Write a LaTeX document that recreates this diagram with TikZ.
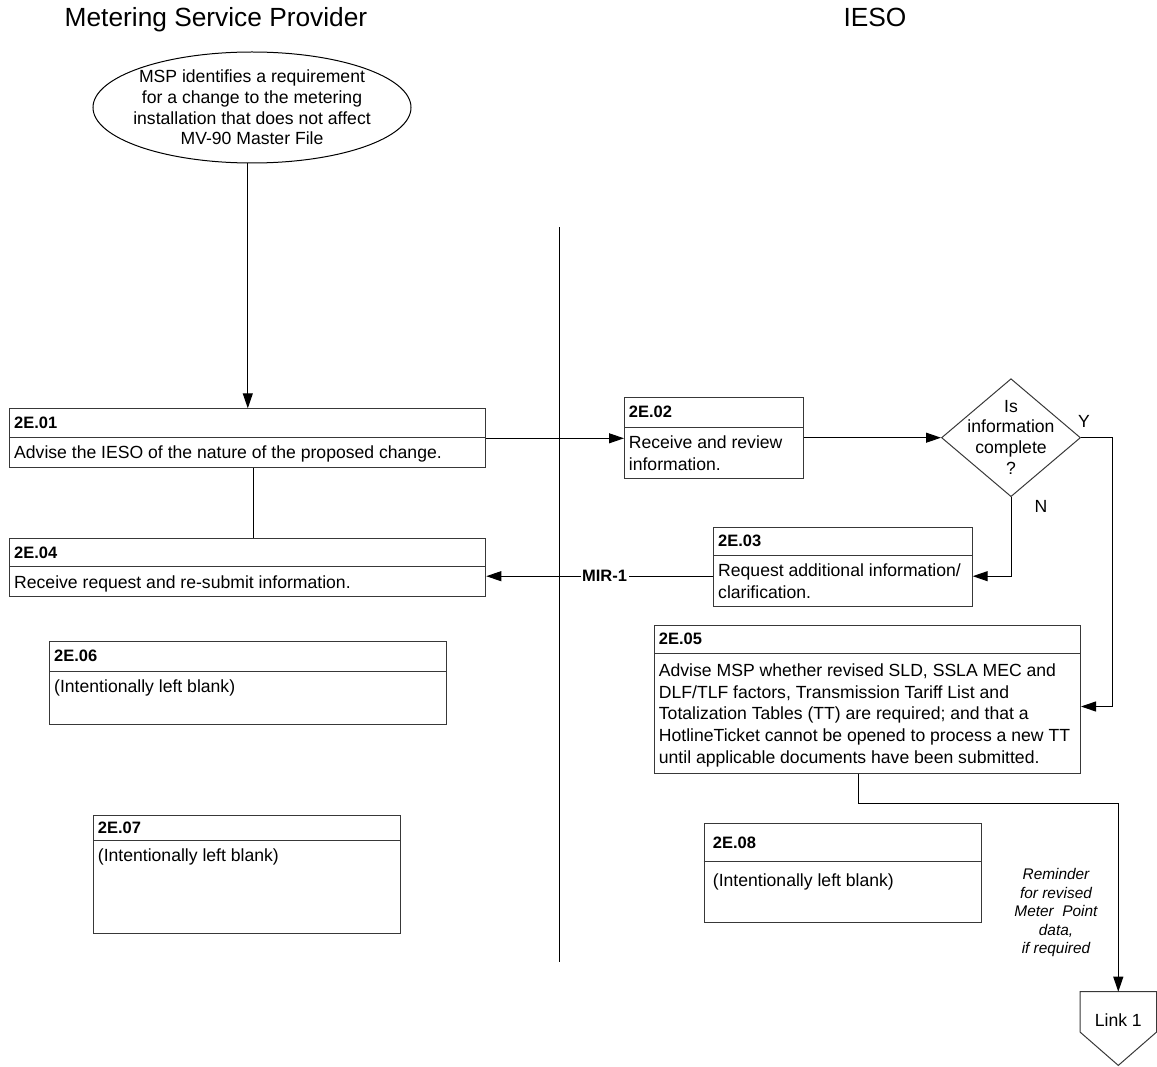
\documentclass[tikz,border=0pt]{standalone}
\usepackage{fontspec}
\setmainfont{Liberation Sans}
\usetikzlibrary{arrows.meta,shapes.geometric}

% geometry of a task box: inset of the texts, drop of the first body baseline, line pitch
\def\boxinset{4.7}
\def\bodydrop{21.5}
\def\bodypitch{21.7}

% #1 name, #2 left, #3 top, #4 right, #5 bottom, #6 divider y, #7 id, #8 body, #9 body lines
\newcommand\taskbox[9]{%
  \node[taskframe, minimum width={(#4)-(#2)}, minimum height={(#5)-(#3)}, anchor=north west] (#1) at (#2,-#3) {};
  \draw[taskframe] (#2,-#6) -- (#4,-#6);
  \node[idlabel, anchor=west] (#1-id) at ({#2+\boxinset},{-(#3+#6)/2}) {#7};
  \node[bodylabel, anchor=base west] (#1-body) at ({#2+\boxinset},{-(#6+\bodydrop+(#9-1)*\bodypitch)}) {#8};
}

\tikzset{
  taskframe/.style={draw=black!78, line width=1pt, inner sep=0pt},
  idlabel/.style={inner sep=0pt, font=\fontsize{16.5}{20}\selectfont\bfseries},
  bodylabel/.style={inner sep=0pt, align=left, font=\fontsize{17.6}{21.7}\selectfont},
  heading/.style={inner sep=0pt, font=\fontsize{26.3}{30}\selectfont},
  plain/.style={inner sep=0pt, align=center, font=\fontsize{17.6}{20.7}\selectfont},
  note/.style={inner sep=0pt, align=center, font=\fontsize{15.4}{18.5}\selectfont\itshape},
  conn/.style={draw=black, line width=1pt},
  arr/.style={conn, -{Triangle[length=15pt,width=10pt]}},
  lane/.style={draw=black, line width=1.5pt},
  mir/.style={fill=white, inner sep=1.5pt, font=\fontsize{16.5}{20}\selectfont\bfseries},
}

\begin{document}
\begin{tikzpicture}[x=1pt, y=1pt]
\useasboundingbox (0,0) rectangle (1157,-1067);

% lane titles and separator
\node[heading, anchor=base] (hmsp) at (216,-27) {Metering Service Provider};
\node[heading, anchor=base] (hieso) at (875,-27) {IESO};
\coordinate (laneTop) at (559.3,-227.3);
\coordinate (laneBot) at (559.3,-961.7);
\draw[lane] (laneTop) -- (laneBot);

% start event
\node[draw=black, line width=1pt, ellipse, minimum width=318, minimum height=111, inner sep=0pt] (start) at (252,-107.5) {};
\node[plain] (start-txt) at (252,-107.5) {MSP identifies a requirement\\for a change to the metering\\installation that does not affect\\MV-90 Master File};

% task boxes
\taskbox{e01}{9.3}{408.3}{485.3}{467.3}{437.3}{2E.01}{Advise the IESO of the nature of the proposed change.}{1}
\taskbox{e04}{9.3}{538.3}{485.3}{595.7}{566.7}{2E.04}{Receive request and re-submit information.}{1}
\taskbox{e06}{49.3}{641}{446}{724.3}{671}{2E.06}{(Intentionally left blank)}{1}
\taskbox{e07}{93}{815}{400}{933.3}{840.3}{2E.07}{(Intentionally left blank)}{1}
\taskbox{e02}{624}{396.7}{802.7}{477.7}{427}{2E.02}{Receive and review\\information.}{2}
\taskbox{e03}{713.3}{526.7}{971.7}{605.7}{555}{2E.03}{Request additional information/\\clarification.}{2}
\def\bodydrop{23}
\taskbox{e05}{654}{624.7}{1080}{773.3}{653.3}{2E.05}{Advise MSP whether revised SLD, SSLA MEC and\\DLF/TLF factors, Transmission Tariff List and\\Totalization Tables (TT) are required; and that a\\HotlineTicket cannot be opened to process a new TT\\until applicable documents have been submitted.}{5}
\def\boxinset{9}
\def\bodydrop{25}
\taskbox{e08}{703.7}{823}{981}{921.7}{861.7}{2E.08}{(Intentionally left blank)}{1}

% decision
\node[draw=black!78, line width=1pt, diamond, minimum width=139, minimum height=118, inner sep=0pt] (dec) at (1011,-437.7) {};
\node[plain] (dec-txt) at (1011,-437.2) {Is\\information\\complete\\?};
\node[plain] (yes) at (1084,-421) {Y};
\node[plain] (no) at (1041,-506) {N};

% off-page link
\node[minimum width=76, minimum height=40, inner sep=0pt, anchor=north] (link) at (1118.3,-991.7) {};
\draw[taskframe] (link.north west) -- (link.north east) -- (link.south east)
  -- ([yshift=-33.3]link.south) -- (link.south west) -- cycle;
\node[plain] (link-txt) at (1118.3,-1020) {Link 1};

% note on the link connector
\node[note] (remind) at (1056,-913) {Reminder\\for revised\\Meter~ Point\\data,\\if required};

% connectors
\draw[arr] (start.south -| e01.north) -- (e01.north);
\draw[conn] ([xshift=6]e01.south) -- ([xshift=6]e04.north);
\draw[arr] (e01.east) -- (e01.east -| e02.west);
\draw[arr] (e02.east) -- (e02.east -| dec.west);
\draw[arr] (dec.east) -- ++(31,0) |- ([yshift=-7]e05.east);
\draw[arr] (dec.south) |- ([yshift=-9.5]e03.east);
\draw[arr] ([yshift=-9.5]e03.west) -- node[pos=0.479, mir] (mir1) {MIR-1} ([yshift=-9.5]e03.west -| e04.east);
\draw[arr] ([xshift=-9]e05.south) -- ++(0,-29) -| (link.north);
\end{tikzpicture}
\end{document}
